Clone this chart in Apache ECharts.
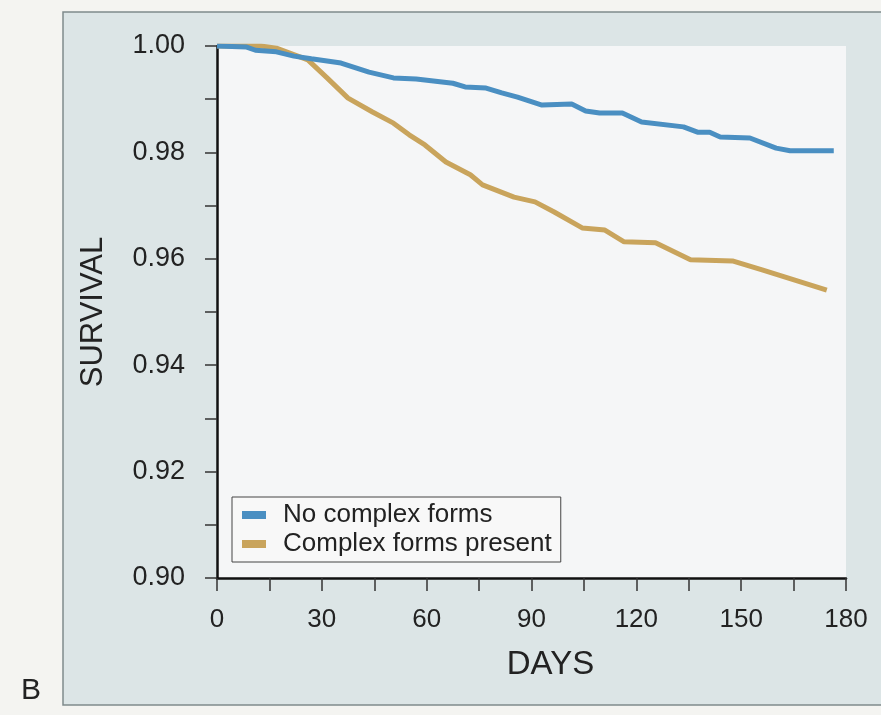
<!DOCTYPE html>
<html>
<head>
<meta charset="utf-8">
<title>Survival</title>
<script src="https://cdn.jsdelivr.net/npm/echarts@6/dist/echarts.min.js"></script>
<style>
   html, body { margin: 0; padding: 0; background: #f4f4f1; }
   #chart { width: 881px; height: 715px; }
</style>
</head>
<body>
<div id="chart"></div>
<script>
// values (days, survival)
const noComplexDays = [0, 8.5, 11, 17, 22, 27, 35.5, 43.5, 50.5, 57, 67.5, 71, 77, 81.5, 86, 93, 101.5, 105.5, 109.5, 116, 121.5, 133.5, 137.5, 141, 144, 152.5, 160, 164, 176.5];
const noComplexSurv = [1.000, 0.9998, 0.9992, 0.9989, 0.9981, 0.9976, 0.9968, 0.9951, 0.9940, 0.9938, 0.9930, 0.9923, 0.9921, 0.9912, 0.9904, 0.9889, 0.9891, 0.9878, 0.9874, 0.9874, 0.9857, 0.9848, 0.9838, 0.9838, 0.9829, 0.9827, 0.9808, 0.9803, 0.9803];

const complexDays = [0, 9, 12.5, 17, 26, 31.5, 37.5, 44.5, 50.5, 55, 59.5, 65.5, 72.5, 76, 85, 91, 96.5, 104.5, 111, 116.5, 125.5, 135.5, 147.5, 156, 174.5];
const complexSurv = [1.000, 1.000, 1.000, 0.9996, 0.9974, 0.9940, 0.9902, 0.9876, 0.9855, 0.9833, 0.9814, 0.9782, 0.9758, 0.9739, 0.9716, 0.9707, 0.9688, 0.9658, 0.9654, 0.9632, 0.9630, 0.9598, 0.9596, 0.9579, 0.9541];

const seriesNames = ['No complex forms', 'Complex forms present'];
const xTickLabels = [0, 30, 60, 90, 120, 150, 180];

function pairs(xs, ys) {
   return xs.map((x, i) => [x, ys[i]]);
}

const textColor = '#222';
const fontFamily = 'Liberation Sans, Arial, sans-serif';

const chart = echarts.init(document.getElementById('chart'));
chart.setOption({
   backgroundColor: '#f4f4f1',
   animation: false,
   textStyle: { fontFamily: fontFamily, color: textColor },
   graphic: [
      {
         type: 'rect',
         z: -10,
         shape: { x: 63, y: 12, width: 830, height: 693 },
         style: { fill: '#dce5e6', stroke: '#7f8a8c', lineWidth: 1.5 }
      },
      {
         type: 'text',
         left: 21,
         top: 676,
         style: { text: 'B', font: '30px Liberation Sans, Arial, sans-serif', fill: textColor }
      }
   ],
   grid: {
      left: 217,
      top: 46,
      right: 35,
      bottom: 137,
      show: true,
      backgroundColor: '#f5f6f7',
      borderWidth: 0
   },
   legend: {
      orient: 'vertical',
      left: 232,
      top: 497,
      padding: [5, 9, 5, 10],
      itemGap: 3,
      itemWidth: 24,
      itemHeight: 8,
      backgroundColor: '#f8f8f8',
      borderColor: '#444',
      borderWidth: 1,
      borderRadius: 0,
      icon: 'rect',
      textStyle: { fontSize: 26, color: textColor, fontFamily: fontFamily, padding: [0, 0, 0, 12] },
      data: seriesNames
   },
   xAxis: {
      type: 'value',
      min: 0,
      max: 180,
      interval: 15,
      name: 'DAYS',
      nameLocation: 'middle',
      nameGap: 70,
      nameTextStyle: { fontSize: 33, color: textColor, padding: [0, 0, 0, 38] },
      axisLine: { show: true, lineStyle: { color: '#111', width: 2.5 } },
      axisTick: { show: true, length: 13, lineStyle: { color: '#333', width: 1.5 } },
      axisLabel: {
         margin: 29,
         fontSize: 26,
         color: textColor,
         formatter: v => (xTickLabels.indexOf(v) >= 0 ? String(v) : '')
      },
      splitLine: { show: false }
   },
   yAxis: {
      type: 'value',
      min: 0.90,
      max: 1.00,
      interval: 0.01,
      name: 'SURVIVAL',
      nameLocation: 'middle',
      nameRotate: 90,
      nameGap: 108,
      nameTextStyle: { fontSize: 31, color: textColor },
      axisLine: { show: true, lineStyle: { color: '#111', width: 2.5 } },
      axisTick: { show: true, length: 12, lineStyle: { color: '#333', width: 1.5 } },
      axisLabel: {
         margin: 32,
         fontSize: 27,
         color: textColor,
         formatter: v => (Math.round(v * 100) % 2 === 0 ? v.toFixed(2) : '')
      },
      splitLine: { show: false }
   },
   series: [
      {
         name: seriesNames[0],
         type: 'line',
         symbol: 'none',
         z: 3,
         lineStyle: { color: '#4a8fc2', width: 5 },
         itemStyle: { color: '#4a8fc2' },
         data: pairs(noComplexDays, noComplexSurv)
      },
      {
         name: seriesNames[1],
         type: 'line',
         symbol: 'none',
         z: 2,
         lineStyle: { color: '#c9a45c', width: 5 },
         itemStyle: { color: '#c9a45c' },
         data: pairs(complexDays, complexSurv)
      }
   ]
});
</script>
</body>
</html>
